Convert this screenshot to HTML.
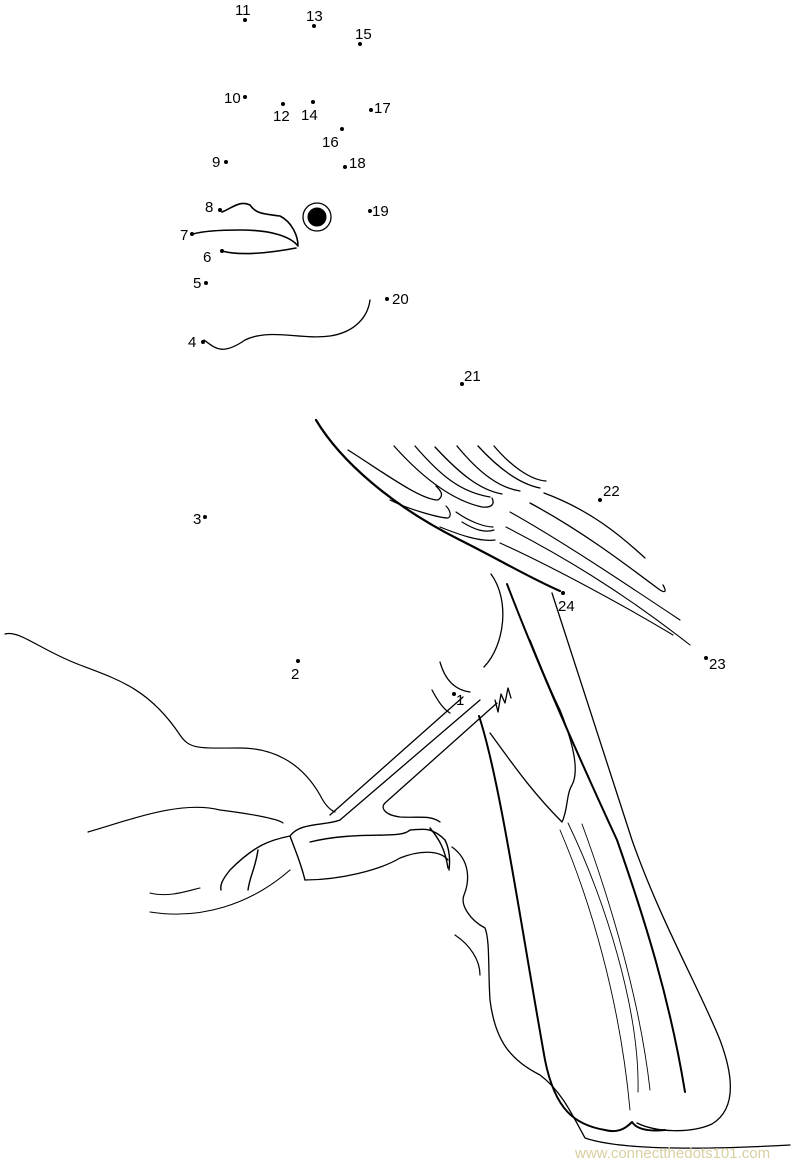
<!DOCTYPE html>
<html><head><style>
html,body{margin:0;padding:0;background:#fff;}
svg{display:block;}
text{font-family:"Liberation Sans",sans-serif;font-size:15px;fill:#000;}
</style></head><body>
<svg width="800" height="1162" viewBox="0 0 800 1162" xmlns="http://www.w3.org/2000/svg">
<g fill="none" stroke="#000" stroke-linecap="round" stroke-linejoin="round">
<!-- beak -->
<path d="M222,212 C232,208 240,200 250,205 C256,214 264,214 280,216 C292,222 298,236 298,246 C290,236 270,230 240,230 C215,230 200,232 193,234" stroke-width="1.6"/>
<path d="M222,251 C240,256 270,253 296,248" stroke-width="1.6"/>
<!-- eye -->
<circle cx="317" cy="217" r="14" stroke-width="1.3"/>
<circle cx="317" cy="217" r="9" fill="#000"/>
<!-- throat -->
<path d="M204,340 C215,348 222,356 245,340 C270,328 300,340 330,336 C356,332 368,316 370,300" stroke-width="1.3"/>
<!-- wing edge -->
<path d="M316,420 C340,460 390,505 460,540 C500,560 530,578 560,591" stroke-width="2.2"/>
<path d="M348,450 C380,470 420,500 438,500 C445,495 440,490 436,486" stroke-width="1.3"/>
<path d="M390,500 C410,510 440,518 448,518 C452,516 450,510 446,506" stroke-width="1.2"/>
<path d="M394,446 C420,475 450,500 482,507 C492,508 495,504 492,498" stroke-width="1.3"/>
<path d="M415,446 C440,475 460,492 490,497" stroke-width="1.3"/>
<path d="M435,447 C460,474 480,490 502,494" stroke-width="1.3"/>
<path d="M457,446 C480,474 500,488 520,491" stroke-width="1.3"/>
<path d="M478,446 C500,470 520,484 540,488" stroke-width="1.3"/>
<path d="M494,446 C510,465 530,480 546,481" stroke-width="1.3"/>
<path d="M456,512 C470,522 485,527 493,527 M462,522 C475,530 485,533 494,530" stroke-width="1.2"/>
<path d="M440,527 C460,535 480,542 495,540" stroke-width="1.2"/>
<path d="M544,493 C590,510 620,535 645,558" stroke-width="1.3"/>
<path d="M530,503 C580,530 620,560 660,590 C665,593 667,592 663,585" stroke-width="1.3"/>
<path d="M510,512 C560,540 620,580 680,620" stroke-width="1.1"/>
<path d="M506,527 C560,555 620,590 690,645" stroke-width="1.1"/>
<path d="M500,543 C560,570 640,615 673,635" stroke-width="1.1"/>
<!-- tail -->
<path d="M552,593 L632,840 C660,920 700,990 720,1040 C735,1080 735,1110 712,1124 C690,1134 655,1132 637,1123" stroke-width="1.3"/>
<path d="M507,584 C540,670 580,760 617,840 C645,920 670,1000 685,1092" stroke-width="2"/>
<path d="M479,716 C500,780 520,920 545,1060 C555,1110 575,1125 605,1130 C620,1134 628,1126 632,1122 C636,1128 645,1132 665,1130" stroke-width="2"/>
<path d="M490,733 C510,760 530,790 562,822 C568,810 566,795 572,785 C580,770 572,740 560,710 C550,690 540,665 530,640" stroke-width="1.3"/>
<path d="M491,574 C510,600 505,645 484,667" stroke-width="1.3"/>
<path d="M560,830 C590,900 620,1000 630,1110 M582,824 C610,900 640,1000 650,1090 M568,823 C605,900 640,1010 638,1092" stroke-width="0.9"/>
<!-- legs -->
<path d="M440,662 C445,680 455,690 470,692 M432,690 C440,705 445,710 450,713" stroke-width="1.3"/>
<path d="M463,697 L330,815 M480,700 L340,820 M497,703 L385,803 C380,808 385,815 400,817 C420,818 430,815 440,822" stroke-width="1.3"/>
<path d="M495,700 L498,712 L501,694 L505,703 L508,688 L511,698" stroke-width="1.3"/>
<path d="M340,820 C325,826 300,822 290,836 C270,840 255,845 230,870 C222,880 220,885 221,890 M290,836 C295,850 300,860 305,880 M258,850 C255,870 250,875 248,890 M310,842 C360,830 400,840 410,830 C420,830 430,825 445,840 C450,850 450,862 449,870 M430,828 C440,840 445,850 448,868" stroke-width="1.4"/>
<path d="M305,880 C340,880 380,870 400,858 C420,850 440,850 448,860" stroke-width="1.3"/>
<!-- branch -->
<path d="M5,634 C20,630 40,650 80,665 C120,680 150,690 180,735 C190,750 200,748 240,748 C270,748 300,760 320,795 C325,805 330,810 335,812" stroke-width="1.2"/>
<path d="M88,832 C130,820 180,800 220,810 C260,815 280,820 283,823" stroke-width="1.2"/>
<path d="M150,912 C200,920 250,905 290,870 M150,893 C170,898 190,890 200,888" stroke-width="1.1"/>
<path d="M452,847 C470,860 470,880 464,895 C460,905 470,920 485,928 C490,940 488,970 490,1000 C495,1040 510,1060 540,1075 C560,1090 570,1110 585,1138 C620,1150 700,1150 790,1145" stroke-width="1.3"/>
<path d="M455,935 C470,945 480,960 480,975" stroke-width="1.2"/>
</g>
<g fill="#000">
<circle cx="245" cy="20" r="2"/><circle cx="314" cy="26" r="2"/><circle cx="360" cy="44" r="2"/>
<circle cx="245" cy="97" r="2"/><circle cx="283" cy="104" r="2"/><circle cx="313" cy="102" r="2"/><circle cx="371" cy="110" r="2"/>
<circle cx="342" cy="129" r="2"/><circle cx="226" cy="162" r="2"/><circle cx="345" cy="167" r="2"/>
<circle cx="220" cy="210" r="2"/><circle cx="370" cy="211" r="2"/><circle cx="192" cy="234" r="2"/><circle cx="222" cy="251" r="2"/>
<circle cx="206" cy="283" r="2"/><circle cx="387" cy="299" r="2"/><circle cx="203" cy="342" r="2"/><circle cx="462" cy="384" r="2"/>
<circle cx="600" cy="500" r="2"/><circle cx="205" cy="517" r="2"/><circle cx="563" cy="593" r="2"/><circle cx="706" cy="658" r="2"/>
<circle cx="298" cy="661" r="2"/><circle cx="454" cy="694" r="2"/>
</g>
<text x="235" y="15">11</text><text x="306" y="21">13</text><text x="355" y="39">15</text>
<text x="224" y="103">10</text><text x="273" y="121">12</text><text x="301" y="120">14</text><text x="374" y="113">17</text>
<text x="322" y="147">16</text><text x="212" y="167">9</text><text x="349" y="168">18</text>
<text x="205" y="212">8</text><text x="372" y="216">19</text><text x="180" y="240">7</text><text x="203" y="262">6</text>
<text x="193" y="288">5</text><text x="392" y="304">20</text><text x="188" y="347">4</text><text x="464" y="381">21</text>
<text x="603" y="496">22</text><text x="193" y="524">3</text><text x="558" y="611">24</text><text x="709" y="669">23</text>
<text x="291" y="679">2</text><text x="456" y="705">1</text>
<text x="575" y="1158" style="font-size:15px;fill:#d8d0a0;">www.connectthedots101.com</text>
</svg>
</body></html>
